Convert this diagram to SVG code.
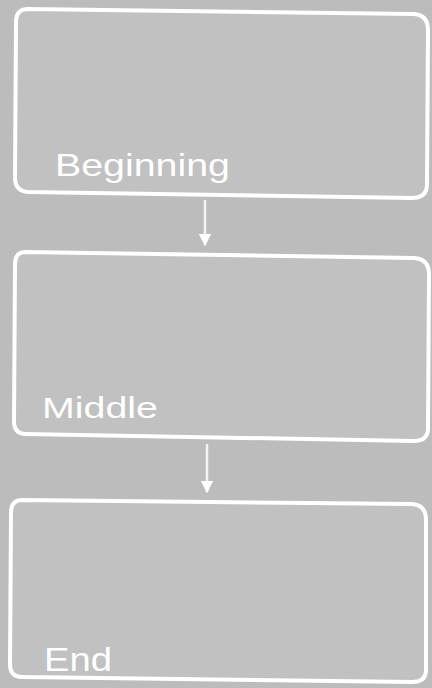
<svg xmlns="http://www.w3.org/2000/svg" width="432" height="688" viewBox="0 0 432 688">
<defs>
<marker id="ah" viewBox="0 0 10 10" refX="9" refY="5" markerWidth="5" markerHeight="5" orient="auto" markerUnits="strokeWidth">
<path d="M0,0 L10,5 L0,10 Z" fill="#ffffff"/>
</marker>
</defs>
<style>
.box{fill:#c1c1c1;stroke:#ffffff;stroke-width:4;}
.lbl{fill:#ffffff;font-family:"Liberation Sans",sans-serif;}
.conn{stroke:#f4f4f4;stroke-width:2.5;fill:none;}
</style>
<rect width="432" height="688" fill="#bcbcbc"/>
<g id="beginning">
<path class="box" d="M28,9 L414,14 Q428,15 428,30 L427,184 Q427,198 412,198 L28,192 Q15,191 15,178 L16,22 Q16,9 28,9 Z"/>
<text class="lbl" x="55" y="176" font-size="32" textLength="175" lengthAdjust="spacingAndGlyphs">Beginning</text>
</g>
<g id="middle">
<path class="box" d="M25,252 L414,258 Q429,259 429,274 L428,428 Q428,441 414,441 L26,434 Q14,434 14,421 L15,265 Q15,252 25,252 Z"/>
<text class="lbl" x="42" y="418" font-size="30" textLength="116" lengthAdjust="spacingAndGlyphs">Middle</text>
</g>
<g id="end">
<path class="box" d="M22,500 L412,504 Q426,505 426,520 L426,670 Q426,682 412,682 L22,677 Q10,677 10,664 L11,513 Q11,500 22,500 Z"/>
<text class="lbl" x="44" y="671" font-size="34" textLength="68" lengthAdjust="spacingAndGlyphs">End</text>
</g>
<g id="connectors">
<line class="conn" x1="205" y1="200" x2="205" y2="245" marker-end="url(#ah)"/>
<line class="conn" x1="207" y1="444" x2="207" y2="492" marker-end="url(#ah)"/>
</g>
</svg>
